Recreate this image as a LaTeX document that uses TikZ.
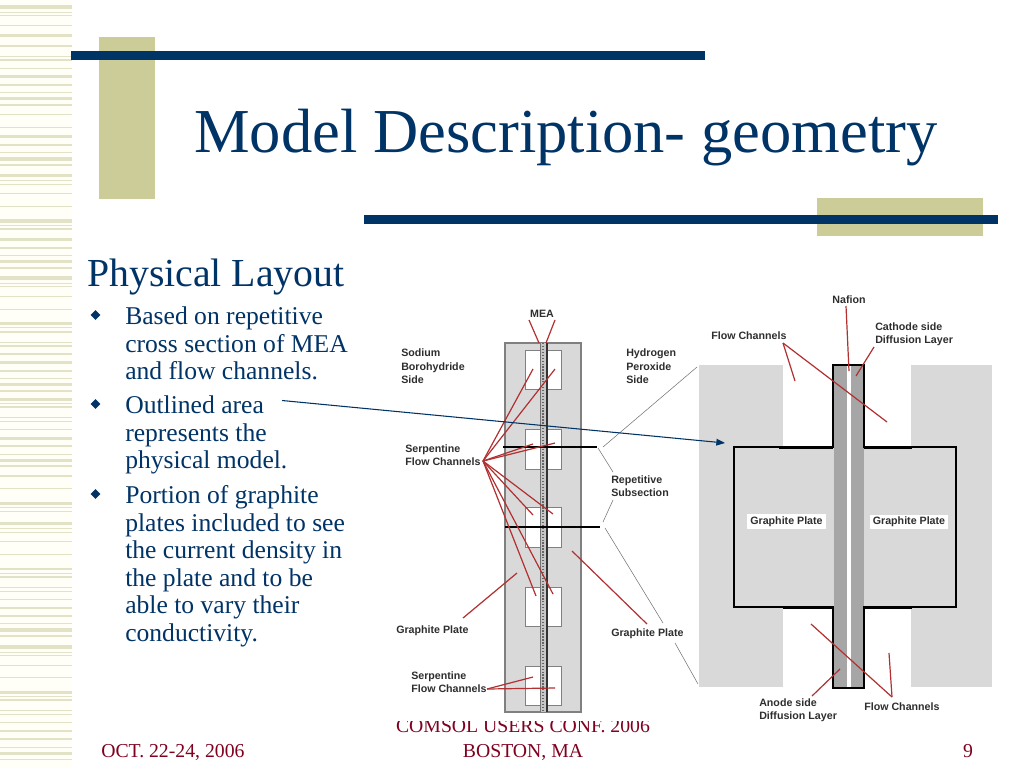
\documentclass[tikz,border=0pt]{standalone}
\usepackage{fontspec}
\usetikzlibrary{arrows.meta,shapes.geometric}
\setmainfont{Liberation Serif}
\newfontfamily\lblfont{Liberation Sans}[BoldFont={Liberation Sans Bold}]
\definecolor{navy}{HTML}{003366}
\definecolor{tan}{HTML}{CCCC99}
\definecolor{stripe}{HTML}{E2E2C6}
\definecolor{plate}{HTML}{D9D9D9}
\definecolor{mem}{HTML}{A6A6A6}
\definecolor{redline}{HTML}{B23030}
\definecolor{foot}{HTML}{800020}
\newcommand{\fs}[1]{\fontsize{#1}{#1}\selectfont}
\tikzset{
 lbl/.style={inner sep=0pt,align=left,text=black!82,font=\lblfont\bfseries\fontsize{8}{10.3}\selectfont},
 bodytxt/.style={anchor=north west,inner sep=0pt,align=left,text=navy,font=\fontsize{19.2}{20.6}\selectfont},
 foottxt/.style={anchor=base,inner sep=0pt,text=foot,font=\fontsize{14.8}{14.8}\selectfont},
 bul/.style={diamond,fill=navy,inner sep=0pt,minimum width=7.5pt,minimum height=7.5pt},
 redl/.style={draw=redline,line width=.9pt},
 thinl/.style={draw=black!55,line width=.4pt},
 blackl/.style={draw=black,line width=1.3pt},
 outl/.style={draw=black,line width=1.9pt,line join=miter},
 chan/.style={draw=black!50,fill=white,line width=.6pt},
}
\begin{document}
\begin{tikzpicture}[x=.75pt,y=-.75pt]
\useasboundingbox (0,0) rectangle (1024,768);
\fill[white] (0,0) rectangle (1024,768);
\fill[white!97!yellow] (0,0) rectangle (72,768);
% stripes (thirds of a pixel)
\begin{scope}[y=-.25pt]
\foreach \y/\h in {22/12,37/3,47/4,76/3,107/10,137/5,168/2,180/5,205/3,229/8,254/5,277/3,296/10,314/5,344/3,382/3,410/8,435/5,458/3,477/10,494/5,527/10,542/3,553/3,580/3,619/3,663/10,676/3,687/5,718/8,743/5,766/3,
 785/10,803/5,834/10,849/3,860/3,889/3,928/3,971/8,983/3,995/5,1026/3,1037/5,1061/5,1088/8,1112/5,1135/3,1154/10,1172/5,1198/8,1210/3,1220/5,1253/3,1264/5,1288/3,1315/8,1338/5,1362/3,1381/10,1398/5,1428/5,1466/4,1510/8,1523/3,1534/3,
 1571/10,1586/3,1596/3,1625/3,1663/3,1707/8,1719/3,1730/5,1763/3,1774/5,1798/3,1824/8,1847/5,1871/3,1890/10,1908/5,1941/10,1956/3,1966/3,1995/3,2033/3,2077/8,2089/3,2099/5,2132/3,2143/5,2167/3,2193/8,2216/5,2241/3,2261/10,2278/5}
 \fill[stripe] (0,{\y-\h/2}) rectangle (72,{\y+\h/2});
\end{scope}
% frame bars
\fill[tan] (99,37) rectangle (155,199);
\fill[tan] (817,198) rectangle (983,236);
\fill[navy] (71,51) rectangle (705,60);
\fill[navy] (364,215) rectangle (998,224);
% title
\node[anchor=base west,inner sep=0pt,text=navy,font=\fs{46.9}] (title) at (194,152) {Model Description- geometry};
\node[anchor=base west,inner sep=0pt,text=navy,font=\fs{29.8}] (head) at (87,286) {Physical Layout};
\node[bul] (b1) at (95.5,315) {};
\node[bul] (b2) at (95.5,404) {};
\node[bul] (b3) at (95.5,494) {};
\node[bodytxt] (t1) at (125,306.5) {Based on repetitive\\cross section of MEA\\and flow channels.};
\node[bodytxt] (t2) at (125,395.5) {Outlined area\\represents the\\physical model.};
\node[bodytxt] (t3) at (125,485.5) {Portion of graphite\\plates included to see\\the current density in\\the plate and to be\\able to vary their\\conductivity.};
% footer
\node[foottxt,anchor=base west] (f1) at (101,757) {OCT. 22-24, 2006};
\begin{scope}
\clip (380,721) rectangle (670,740);
\node[foottxt] (f2) at (523,732.5) {COMSOL USERS CONF. 2006};
\end{scope}
\node[foottxt] (f3) at (523,757) {BOSTON, MA};
\node[foottxt] (f4) at (968,757) {9};
% left diagram
\draw[draw=black!50,fill=plate,line width=.9pt] (505,343) rectangle (581,712);
\foreach \a/\b in {350/389,429/469,507/547,587/626,666/705}
 \draw[chan] (525,\a) rectangle (561,\b);
\fill[black!22] (540,343) rectangle (547,712);
\draw[black!60,line width=1.6pt,dash pattern=on 1pt off 1.2pt] (543,343) -- (543,712);
\draw[black!55,line width=.7pt] (540,343) -- (540,712);
\draw[black!80,line width=.9pt] (547,343) -- (547,712);
\coordinate (c1a) at (503,447); \coordinate (c1b) at (597,447);
\coordinate (c2a) at (505,527); \coordinate (c2b) at (600,527);
\draw[blackl] (c1a) -- (c1b);
\draw[blackl] (c2a) -- (c2b);
% left labels
\node[lbl,anchor=center] (mea) at (542,314) {MEA};
\node[lbl,anchor=north west] (sod) at (401,348.5) {Sodium\\Borohydride\\Side};
\node[lbl,anchor=north west] (hyd) at (626,348.5) {Hydrogen\\Peroxide\\Side};
\node[lbl,anchor=north west] (ser) at (405,444) {Serpentine\\Flow Channels};
\node[lbl,anchor=north west] (rep) at (611,475) {Repetitive\\Subsection};
\node[lbl,anchor=west] (gl) at (396,631) {Graphite Plate};
\node[lbl,anchor=west] (gr) at (611,634) {Graphite Plate};
\node[lbl,anchor=north west] (ser2) at (411,671) {Serpentine\\Flow Channels};
% left red leaders
\coordinate (sf) at (483,461);
\foreach \x/\y in {533/369,555/369,533/444,555/443,533/515,553/514,536/596,553/594}
 \draw[redl] (sf) -- (\x,\y);
\coordinate (meaL) at (529,320); \coordinate (meaR) at (555,320);
\coordinate (meaL2) at (539,343); \coordinate (meaR2) at (546,343);
\draw[redl] (meaL) -- (meaL2);
\draw[redl] (meaR) -- (meaR2);
\coordinate (glA) at (463,618); \coordinate (glB) at (517,573);
\coordinate (grA) at (647,624); \coordinate (grB) at (572,551);
\draw[redl] (glA) -- (glB);
\draw[redl] (grA) -- (grB);
\coordinate (sf2) at (487,689);
\coordinate (sf2a) at (533,677); \coordinate (sf2b) at (555,688);
\draw[redl] (sf2) -- (sf2a);
\draw[redl] (sf2) -- (sf2b);
% right diagram
\fill[plate] (699,365) rectangle (783,687);
\fill[plate] (911,365) rectangle (992,687);
\fill[plate] (783,447) rectangle (911,607);
\fill[mem] (834,365) rectangle (864,688);
\fill[white] (847,365) rectangle (851,688);
\draw[outl] (734,447) -- (833,447) -- (833,365) -- (864,365) -- (864,447) -- (956,447) -- (956,607) -- (864,607) -- (864,688) -- (833,688) -- (833,607) -- (734,607) -- cycle;
\draw[draw=black,line width=2.3pt] (779,447.5) -- (833,447.5);
\draw[draw=black,line width=2.3pt] (864,447.5) -- (912,447.5);
\draw[draw=black,line width=2.3pt] (783,607.5) -- (833,607.5);
\draw[draw=black,line width=2.3pt] (864,607.5) -- (912,607.5);
\node[lbl,fill=white,anchor=center,minimum width=59pt,minimum height=11.2pt,align=center] (g1) at (786.5,521.5) {Graphite Plate};
\node[lbl,fill=white,anchor=center,minimum width=59pt,minimum height=11.2pt,align=center] (g2) at (909,522) {Graphite Plate};
% right labels
\node[lbl,anchor=center] (naf) at (849,299.5) {Nafion};
\node[lbl,anchor=west] (fc1) at (711,336) {Flow Channels};
\node[lbl,anchor=north west] (cat) at (875,322) {Cathode side\\Diffusion Layer};
\node[lbl,anchor=north west] (ano) at (759,698) {Anode side\\Diffusion Layer};
\node[lbl,anchor=west] (fc2) at (864,706.5) {Flow Channels};
% right red leaders
\coordinate (nA) at (846,306); \coordinate (nB) at (849,371);
\coordinate (cA) at (874,347); \coordinate (cB) at (856,376);
\coordinate (aA) at (812,696); \coordinate (aB) at (840,669);
\coordinate (fA) at (783,343); \coordinate (fB) at (892,697);
\draw[redl] (nA) -- (nB);
\draw[redl] (cA) -- (cB);
\draw[redl] (aA) -- (aB);
\foreach \x/\y in {795/381,887/422} \draw[redl] (fA) -- (\x,\y);
\foreach \x/\y in {811/624,889/653} \draw[redl] (fB) -- (\x,\y);
% thin grey leaders
\coordinate (h1) at (603,447); \coordinate (h2) at (697,367);
\coordinate (r1) at (598,448); \coordinate (r2) at (613,472);
\coordinate (r3) at (613,500); \coordinate (r4) at (603,522);
\coordinate (l1) at (605,528); \coordinate (l2) at (663,623);
\coordinate (l3) at (675,643); \coordinate (l4) at (698,684);
\draw[thinl] (h1) -- (h2);
\draw[thinl] (r1) -- (r2);
\draw[thinl] (r3) -- (r4);
\draw[thinl] (l1) -- (l2);
\draw[thinl] (l3) -- (l4);
% blue arrow
\coordinate (arS) at (282,400.5); \coordinate (arE) at (725,443);
\draw[draw=navy,line width=.8pt,-{Triangle[length=6.5pt,width=5pt]}] (arS) -- (arE);
\end{tikzpicture}
\end{document}
